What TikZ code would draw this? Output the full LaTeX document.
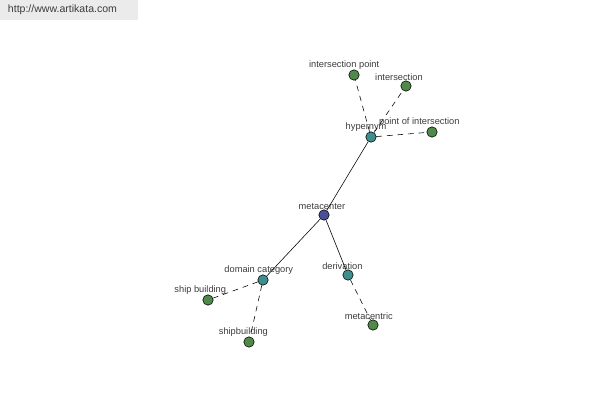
\documentclass[tikz,border=0pt]{standalone}
\usepackage{fontspec}
\setmainfont{Liberation Sans}
\usepackage{tikz}
\definecolor{hubblue}{HTML}{4A4F9C}
\definecolor{midteal}{HTML}{3F8E8E}
\definecolor{leafgreen}{HTML}{4F8A4B}
\definecolor{labelgray}{HTML}{3C3C3C}
\definecolor{bannergray}{HTML}{EBEBEB}
\tikzset{word/.style={circle, draw=black, line width=0.4pt, inner sep=0, minimum size=0.26cm}}
\tikzset{lbl/.style={font=\fontsize{6.6}{7.5}\selectfont, text=labelgray, inner sep=0.5pt}}
\tikzset{syn/.style={draw, dash pattern=on 4pt off 3.5pt, line width=0.4pt}}

\begin{document}
\begin{tikzpicture}[x=0.025cm, y=-0.025cm]
  \useasboundingbox (0, 0) rectangle (600, 400);
  \fill[bannergray] (0, 0) rectangle (138, 20);
  \node[font=\fontsize{7.5}{9}\selectfont, text=labelgray, anchor=west] (site) at (3, 10) {http://www.artikata.com};

  \node[word, fill=hubblue, label={[lbl, xshift=-1.5pt, yshift=-0.5pt]above:metacenter}] at (324, 215) (meta) {};

  \node[word, fill=midteal, label={[lbl, xshift=-3.5pt, yshift=-0.5pt]above:hypernym}] at (371, 137) (hyp) {};
  \node[word, fill=leafgreen, label={[lbl, xshift=-7pt, yshift=-0.5pt]above:intersection point}] at (354, 75) (ipoint) {};
  \node[word, fill=leafgreen, label={[lbl, xshift=-5pt, yshift=-0.5pt]above:intersection}] at (406, 86) (inter) {};
  \node[word, fill=leafgreen, label={[lbl, xshift=-9pt, yshift=-0.5pt]above:point of intersection}] at (432, 132) (poi) {};

  \node[word, fill=midteal, label={[lbl, xshift=-3pt, yshift=-0.5pt]above:domain category}] at (263, 280) (dom) {};
  \node[word, fill=leafgreen, label={[lbl, xshift=-5.5pt, yshift=-0.5pt]above:ship building}] at (208, 300) (shipb) {};
  \node[word, fill=leafgreen, label={[lbl, xshift=-4pt, yshift=-0.5pt]above:shipbuilding}] at (249, 342) (shipbld) {};

  \node[word, fill=midteal, label={[lbl, xshift=-4pt, yshift=-0.5pt]above:derivation}] at (348, 275) (deriv) {};
  \node[word, fill=leafgreen, label={[lbl, xshift=-3pt, yshift=-0.5pt]above:metacentric}] at (373, 325) (metac) {};

  % solid links from the hub
  \draw (meta) -- (hyp);
  \draw (meta) -- (dom);
  \draw (meta) -- (deriv);

  % dashed links to the leaves
  \draw[syn] (hyp) -- (ipoint);
  \draw[syn] (hyp) -- (inter);
  \draw[syn] (hyp) -- (poi);
  \draw[syn] (dom) -- (shipb);
  \draw[syn] (dom) -- (shipbld);
  \draw[syn] (deriv) -- (metac);
\end{tikzpicture}
\end{document}
